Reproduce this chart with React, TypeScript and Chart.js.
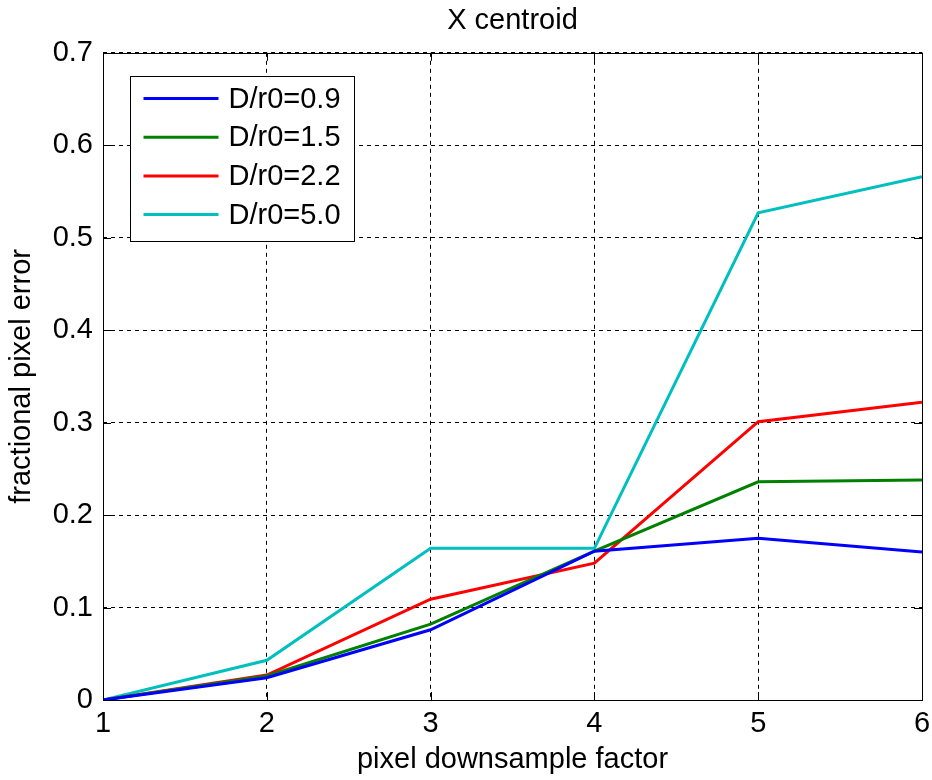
import React, { useEffect, useRef } from "react";
import { Chart, registerables } from "chart.js";

Chart.register(...registerables);

const xFactors = [1, 2, 3, 4, 5, 6];
const seriesLabels = ["D/r0=0.9", "D/r0=1.5", "D/r0=2.2", "D/r0=5.0"];
const seriesColors = ["#0000ff", "#008000", "#ff0000", "#00bfbf"];
const d09 = [0, 0.024, 0.076, 0.161, 0.175, 0.16];
const d15 = [0, 0.026, 0.082, 0.161, 0.236, 0.238];
const d22 = [0, 0.027, 0.109, 0.148, 0.301, 0.322];
const d50 = [0, 0.043, 0.164, 0.164, 0.527, 0.566];
const seriesValues = [d09, d15, d22, d50];

const FONT = "'Liberation Sans', Arial, sans-serif";

const framePlugin = {
  id: "matlabFrame",
  afterDatasetsDraw(chart: any) {
    const { ctx, chartArea } = chart;
    const { left, right, top, bottom } = chartArea;
    ctx.save();
    ctx.strokeStyle = "#000";
    ctx.lineWidth = 1;
    ctx.setLineDash([]);
    ctx.strokeRect(Math.round(left) + 0.5, Math.round(top) + 0.5, Math.round(right - left), Math.round(bottom - top));
    const tl = 8;
    const xs = chart.scales.x;
    const ys = chart.scales.y;
    ctx.beginPath();
    xs.ticks.forEach((t: any) => {
      const px = Math.round(xs.getPixelForValue(t.value)) + 0.5;
      ctx.moveTo(px, bottom);
      ctx.lineTo(px, bottom - tl);
      ctx.moveTo(px, top);
      ctx.lineTo(px, top + tl);
    });
    ys.ticks.forEach((t: any) => {
      const py = Math.round(ys.getPixelForValue(t.value)) + 0.5;
      ctx.moveTo(left, py);
      ctx.lineTo(left + tl, py);
      ctx.moveTo(right, py);
      ctx.lineTo(right - tl, py);
    });
    ctx.stroke();

    // legend box
    const bx = Math.round(left + 27) + 0.5;
    const by = Math.round(top + 23) + 0.5;
    const bw = 224;
    const bh = 165;
    ctx.fillStyle = "#fff";
    ctx.fillRect(bx, by, bw, bh);
    ctx.strokeStyle = "#000";
    ctx.lineWidth = 1;
    ctx.strokeRect(bx, by, bw, bh);
    ctx.font = `29px ${FONT}`;
    ctx.textBaseline = "middle";
    ctx.textAlign = "left";
    chart.data.datasets.forEach((ds: any, i: number) => {
      const ry = by + 22 + i * 38.7;
      ctx.strokeStyle = ds.borderColor;
      ctx.lineWidth = 3;
      ctx.beginPath();
      ctx.moveTo(bx + 13, ry);
      ctx.lineTo(bx + 88, ry);
      ctx.stroke();
      ctx.fillStyle = "#000";
      ctx.fillText(ds.label, bx + 98, ry + 1);
    });
    ctx.restore();
  },
};

export default function App() {
  const ref = useRef<HTMLCanvasElement>(null);
  useEffect(() => {
    document.body.style.margin = "0";
    const canvas = ref.current!;
    const chart = new Chart(canvas, {
      type: "line",
      data: {
        datasets: seriesValues.map((vals, i) => ({
          label: seriesLabels[i],
          data: vals.map((v, j) => ({ x: xFactors[j], y: v })),
          borderColor: seriesColors[i],
          backgroundColor: seriesColors[i],
          borderWidth: 3,
          pointRadius: 0,
          tension: 0,
          fill: false,
        })),
      },
      options: {
        animation: false,
        responsive: false,
        devicePixelRatio: 1,
        layout: { padding: { left: 0, right: 10, top: 0, bottom: 0 } },
        plugins: {
          legend: { display: false },
          tooltip: { enabled: false },
          title: {
            display: true,
            text: "X centroid",
            color: "#000",
            fullSize: false,
            font: { family: FONT, size: 29, weight: "normal" },
            padding: { top: 4, bottom: 14 },
          },
        },
        scales: {
          x: {
            type: "linear",
            min: 1,
            max: 6,
            afterFit(scale: any) {
              scale.height = 80;
              scale.paddingLeft = 0;
              scale.paddingRight = 0;
            },
            ticks: {
              stepSize: 1,
              color: "#000",
              padding: 7,
              font: { family: FONT, size: 29 },
              maxRotation: 0,
            },
            grid: { color: "#000", lineWidth: 1, drawTicks: false, tickLength: 0 },
            border: { display: false, dash: [4, 4] },
            title: {
              display: true,
              text: "pixel downsample factor",
              color: "#000",
              font: { family: FONT, size: 29 },
              padding: { top: 3, bottom: 3 },
            },
          },
          y: {
            type: "linear",
            min: 0,
            max: 0.7,
            afterFit(scale: any) {
              scale.width = 103;
            },
            ticks: {
              stepSize: 0.1,
              color: "#000",
              padding: 10,
              font: { family: FONT, size: 29 },
              callback: (v: any) => (Math.abs(v) < 1e-9 ? "0" : Number(v).toFixed(1)),
            },
            grid: { color: "#000", lineWidth: 1, drawTicks: false, tickLength: 0 },
            border: { display: false, dash: [4, 4] },
            title: {
              display: true,
              text: "fractional pixel error",
              color: "#000",
              font: { family: FONT, size: 29 },
              padding: { top: 5, bottom: 5 },
            },
          },
        },
      },
      plugins: [framePlugin],
    });
    return () => chart.destroy();
  }, []);
  return (
    <div style={{ position: "fixed", left: 0, top: 0, width: 932, height: 780, background: "#fff" }}>
      <canvas ref={ref} width={932} height={780} />
    </div>
  );
}
